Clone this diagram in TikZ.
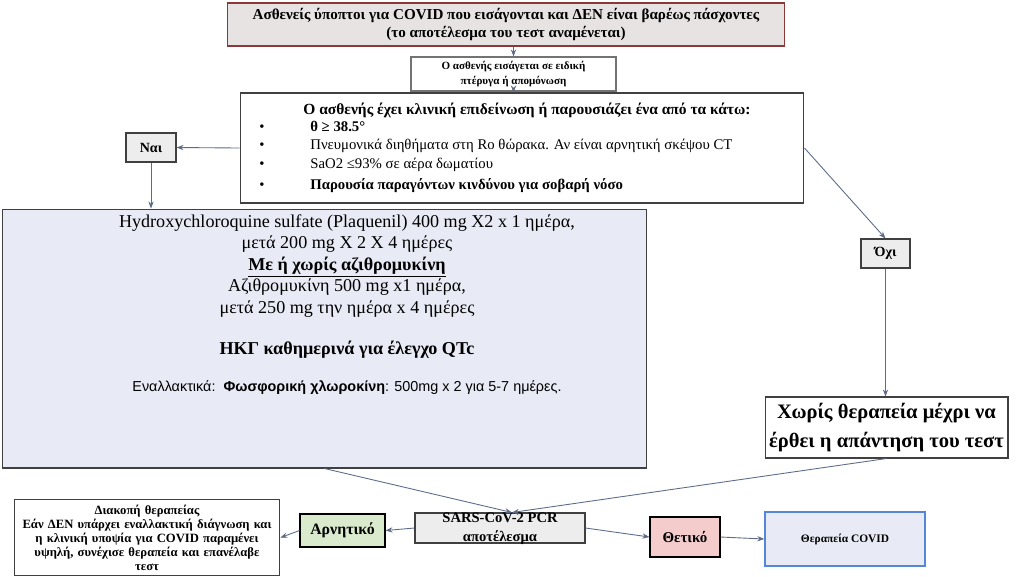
\documentclass[tikz,border=0pt]{standalone}
\usepackage{fontspec}
\setmainfont{Liberation Serif}
\newfontfamily\arialfont{Liberation Sans}
\usepackage{tikz}
\usetikzlibrary{positioning, arrows.meta}
\definecolor{boxgray}{rgb}{0.93, 0.93, 0.93}
\definecolor{topgray}{rgb}{0.91, 0.89, 0.89}
\definecolor{topred}{rgb}{0.55, 0.22, 0.22}
\definecolor{paleblue}{rgb}{0.91, 0.92, 0.96}
\definecolor{palegreen}{rgb}{0.85, 0.92, 0.80}
\definecolor{palepink}{rgb}{0.96, 0.80, 0.80}
\definecolor{edgeblue}{rgb}{0.33, 0.53, 0.85}
\definecolor{arrowgray}{rgb}{0.36, 0.42, 0.53}

\begin{document}
\begin{tikzpicture}[x=0.02cm, y=-0.02cm,
		box/.style={draw=black!75, line width=0.6pt, inner sep=2pt, align=center},
		graybox/.style={box, fill=boxgray},
		flow/.style={draw=arrowgray, line width=0.5pt, -{Stealth[length=4pt, width=3pt]}}]
		\useasboundingbox (0,0) rectangle (1024,576);
		%% top of the chart
		\node[box, draw=topred, fill=topgray, minimum width=11.16cm, minimum height=0.86cm, font=\fontsize{8.6}{9.8}\selectfont\bfseries] (top) at (506,24.5) {Ασθενείς ύποπτοι για COVID που εισάγονται και ΔΕΝ είναι βαρέως πάσχοντες\\(το αποτέλεσμα του τεστ αναμένεται)};
		\node[box, draw=black!55, fill=white, minimum width=4.1cm, minimum height=0.68cm, font=\fontsize{6.3}{8.7}\selectfont\bfseries] (ward) at (513.5,74) {Ο ασθενής εισάγεται σε ειδική\\πτέρυγα ή απομόνωση};
		\node[box, fill=white, minimum width=11.28cm, minimum height=2.2cm] (crit) at (522,148) {};
		\node[font=\fontsize{8.8}{10}\selectfont\bfseries, inner sep=0pt] (crittitle) at (527,110) {Ο ασθενής έχει κλινική επιδείνωση ή παρουσιάζει ένα από τα κάτω:};
		\node[anchor=north west, align=left, inner sep=0pt, font=\fontsize{8.4}{10.4}\selectfont] (critlist) at (259,121) {%
			\makebox[1.02cm][l]{\textbullet}\textbf{θ ≥ 38.5°}\\
			\makebox[1.02cm][l]{\textbullet}Πνευμονικά διηθήματα στη Ro θώρακα. Αν είναι αρνητική σκέψου CT\\
			\makebox[1.02cm][l]{\textbullet}SaO2 ≤93\% σε αέρα δωματίου\\[1.5pt]
			\makebox[1.02cm][l]{\textbullet}\textbf{Παρουσία παραγόντων κινδύνου για σοβαρή νόσο}};
		%% left branch
		\node[graybox, minimum width=1cm, minimum height=0.58cm, font=\fontsize{8}{9}\selectfont\bfseries] (yes) at (151,147.5) {Ναι};
		\node[box, fill=paleblue, minimum width=12.9cm, minimum height=5.18cm] (treat) at (324.5,338.5) {};
		\node[anchor=north, align=center, inner sep=0pt, font=\fontsize{10.3}{12.3}\selectfont] (treattxt) at (347,214) {%
			Hydroxychloroquine sulfate (Plaquenil) 400 mg X2 x 1 ημέρα,\\
			μετά 200 mg X 2 X 4 ημέρες\\
			\textbf{\underline{Με ή χωρίς αζιθρομυκίνη}}\\
			Αζιθρομυκίνη 500 mg x1 ημέρα,\\
			μετά 250 mg την ημέρα x 4 ημέρες\\[11pt]
			\textbf{ΗΚΓ καθημερινά για έλεγχο QTc}\\[9pt]
			{\arialfont\fontsize{8.2}{12.3}\selectfont Εναλλακτικά:\ \ \textbf{Φωσφορική χλωροκίνη}: 500mg x 2 για 5-7 ημέρες.}};
		%% right branch
		\node[graybox, minimum width=0.98cm, minimum height=0.58cm, font=\fontsize{8}{9}\selectfont\bfseries] (no) at (885.5,253.5) {Όχι};
		\node[box, fill=white, minimum width=4.86cm, minimum height=1.22cm, font=\fontsize{11.7}{16}\selectfont\bfseries] (wait) at (886.5,427.5) {Χωρίς θεραπεία μέχρι να\\έρθει η απάντηση του τεστ};
		%% result of the test
		\node[graybox, minimum width=3.4cm, minimum height=0.6cm] (pcr) at (500,528) {};
		\node[font=\fontsize{8.3}{11}\selectfont\bfseries, align=center, inner sep=0pt] (pcrtxt) at (500,529) {SARS-CoV-2 PCR\\αποτέλεσμα};
		\node[box, draw=black, fill=palegreen, minimum width=1.7cm, minimum height=0.66cm, font=\fontsize{9}{10}\selectfont\bfseries] (neg) at (342.5,530.5) {Αρνητικό};
		\node[box, draw=black, fill=palepink, minimum width=1.4cm, minimum height=0.8cm, font=\fontsize{8.5}{10}\selectfont\bfseries] (pos) at (685,537) {Θετικό};
		\node[box, draw=edgeblue, fill=paleblue, line width=0.8pt, minimum width=3.2cm, minimum height=1.08cm, font=\fontsize{6.5}{8}\selectfont\bfseries] (cov) at (845,539) {Θεραπεία COVID};
		\node[box, anchor=north, fill=white, text width=5.1cm, inner sep=3pt, font=\fontsize{7.2}{8}\selectfont\bfseries] (stop) at (147,499) {Διακοπή θεραπείας\\Εάν ΔΕΝ υπάρχει εναλλακτική διάγνωση και\\η κλινική υποψία για COVID παραμένει\\υψηλή, συνέχισε θεραπεία και επανέλαβε\\τεστ};
		%% connectors
		\draw[flow] (ward.north |- top.south) -- (ward.north);
		\draw[flow] (ward.south) -- (ward.south |- crit.north);
		\draw[flow] (crit.west) -- (yes.east);
		\draw[flow] (yes.south) -- (yes.south |- treat.north);
		\draw[flow] (crit.east) -- (no.north);
		\draw[flow] (no.south) -- (no.south |- wait.north);
		\draw[flow] (treat.south) -- ([xshift=0.24cm]pcr.north);
		\draw[flow] (wait.south) -- ([xshift=0.24cm]pcr.north);
		\draw[flow] (pcr.west) -- (neg.east);
		\draw[flow] (neg.west) -- (stop.east);
		\draw[flow] (pcr.east) -- (pos.west);
		\draw[flow] (pos.east) -- (cov.west);
\end{tikzpicture}
\end{document}
